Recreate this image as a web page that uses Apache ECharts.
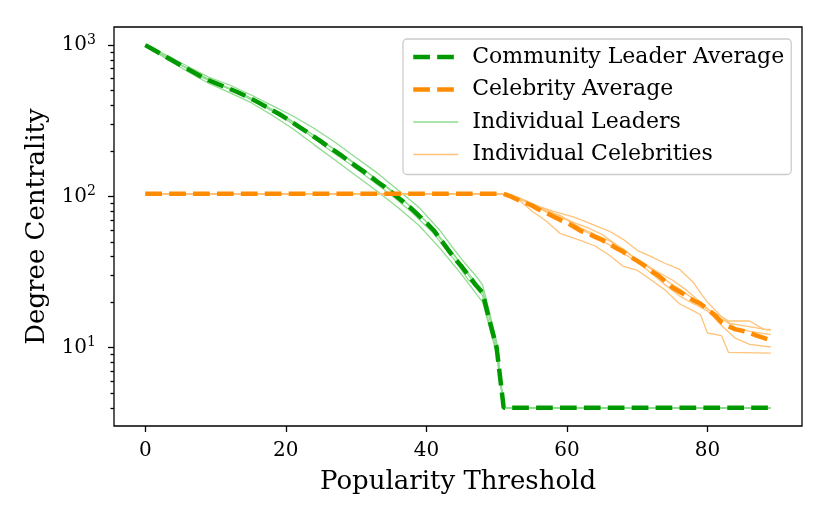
<!DOCTYPE html>
<html lang="en">
<head>
<meta charset="UTF-8">
<title>Degree Centrality vs Popularity Threshold</title>
<script src="https://cdn.jsdelivr.net/npm/echarts@6.0.0/dist/echarts.min.js"></script>
<style>
    html, body { margin: 0; padding: 0; background: #fff; }
    #chart { width: 830px; height: 523px; }
</style>
</head>
<body>
<div id="chart"></div>
<script>
// averages, one value per threshold
var leaderAvgX = [0,1,2,3,4,5,6,7,8,9,10,11,12,13,14,15,16,17,18,19,20,21,22,23,24,25,
                  26,27,28,29,30,31,32,33,34,35,36,37,38,39,40,41,42,43,44,45,46,47,48,49,50,51,89];
var leaderAvgY = [1000,942,887,834,785,740,697,656,618,586,561,537,514,492,468,445,420,396,373,352,
                  329,307,286,267,248,231,214,199,185,171,158,147,136,125,116,107,98,90,82,74,
                  67,60,52,45,39,34.5,30,26,23,15,10,4,4];

var celebAvgX = [0,51,52,53,54,55,56,57,58,59,60,61,62,63,64,65,66,67,68,69,70,
                 71,72,73,74,75,76,77,78,79,80,81,82,83,84,85,86,87,88,89];
var celebAvgY = [104,104,100,95,91,87,82,78,74,70,67,63,59,57,54,51.5,48.5,45.5,43,40,37.5,
                 35,32,30,27.5,25,23.5,22,20.5,19.5,18,16.5,14.7,13.8,13.2,12.9,12.5,12,11.6,11.2];

// individual runs, [threshold, degree]
var leader1 = [[0,1000],[3,860],[6,725],[9,615],[12,545],[15,470],[18,400],[21,340],[24,282],[27,228],
               [30,180],[33,143],[36,110],[39,84],[42,59],[45,38.5],[47,30],[48,26],[49,17],[50,11],[51,4],[89,4]];
var leader2 = [[0,1000],[3,810],[6,670],[9,560],[12,485],[15,418],[18,345],[21,280],[24,220],[27,174],
               [30,137],[33,108],[36,84],[39,64],[42,45],[45,30.5],[47,23],[48,20],[49,13.5],[50,9],[51,4],[89,4]];
var leader3 = [[0,1000],[4,790],[7,660],[10,565],[13,495],[16,425],[19,352],[22,290],[25,236],[28,190],
               [31,152],[34,118],[37,92],[40,68],[43,46],[46,31],[48,24],[49,16],[50,10.5],[51,4],[89,4]];
var leader4 = [[0,1000],[4,780],[8,625],[11,540],[14,470],[17,400],[20,335],[23,272],[26,218],[29,174],
               [32,140],[35,110],[38,84],[41,61],[44,41],[46,30],[48,22],[49,14],[50,9.5],[51,4],[89,4]];
var leader5 = [[0,1000],[2,890],[5,745],[8,615],[11,535],[14,462],[17,392],[20,322],[23,262],[26,206],
               [29,165],[32,130],[35,102],[38,78],[41,57],[44,38],[46,28],[48,23.5],[49,15.5],[50,10],[51,4],[89,4]];

var celeb1 = [[0,104],[51,104],[53,99],[56,86],[58,80],[61,73],[63,67],[66,59],[68,52],[70,44],[72,40],
              [74,36],[76,33],[78,27],[79,23],[80,20],[82,16],[83,15],[86,15],[88,13.2],[89,13.2]];
var celeb2 = [[0,104],[51,104],[53,96],[55,80],[57,69],[59,57],[62,51],[64,47],[66,41],[68,34.5],[70,32.5],
              [72,28],[74,24],[76,19.5],[78,17.5],[79,16.5],[80,12.5],[82,12],[83,9.3],[89,9.2]];
var celeb3 = [[0,104],[51,104],[54,94],[57,79],[60,70],[62,62],[64,56],[66,51],[68,45],[70,38],[72,33],
              [74,28],[76,24.5],[78,21],[80,18],[82,16],[84,13.5],[86,12.8],[89,12.2]];
var celeb4 = [[0,104],[51,104],[54,93],[57,80],[59,75],[62,61],[64,54],[66,48],[68,42],[70,37],[72,31],
              [74,26],[76,22],[78,19.5],[80,17.5],[82,14],[84,11.5],[86,10.5],[89,10.1]];
var celeb5 = [[0,104],[51,104],[55,89],[58,78],[61,67],[63,62],[65,56],[67,48],[69,41],[71,36],[73,31.5],
              [75,28],[77,24],[79,20],[81,16.5],[83,14.5],[85,14],[87,13.5],[89,13]];

var xTicks = [0, 20, 40, 60, 80];
var yMajor = [10, 100, 1000];
var yMinor = [4,5,6,7,8,9,20,30,40,50,60,70,80,90,200,300,400,500,600,700,800,900];

var FONT = 'DejaVu Serif';
var GREEN = '#009a00', ORANGE = '#ff8c00';
var LIGHT_GREEN = '#90dc90', LIGHT_ORANGE = '#ffc37a';

function zip(xs, ys) {
    return xs.map(function (x, i) { return [x, ys[i]]; });
}

function thinLine(name, data, color) {
    return {
        name: name, type: 'line', data: data, symbol: 'none', z: 2,
        lineStyle: { color: color, width: 1.3 }, itemStyle: { color: color }
    };
}

function avgLine(name, data, color) {
    return {
        name: name, type: 'line', data: data, symbol: 'none', z: 3,
        lineStyle: { color: color, width: 4.5, type: [16.7, 7.2] }, itemStyle: { color: color }
    };
}

var tickStyle = { color: '#000', width: 1.3 };

var chart = echarts.init(document.getElementById('chart'));
chart.setOption({
    animation: false,
    textStyle: { fontFamily: FONT },
    grid: { left: 114, right: 28, top: 27, bottom: 97, show: true, borderColor: '#000', borderWidth: 1.3 },
    legend: {
        data: ['Community Leader Average', 'Celebrity Average', 'Individual Leaders', 'Individual Celebrities'],
        orient: 'vertical', left: 403, top: 39,
        itemWidth: 45, itemHeight: 14, itemGap: 10.5,
        padding: [7, 7, 9, 8],
        itemStyle: { opacity: 0 },
        lineStyle: { width: 'inherit', type: 'inherit' },
        backgroundColor: 'rgba(255,255,255,0.8)', borderColor: '#cccccc', borderWidth: 1.3, borderRadius: 4,
        textStyle: { fontFamily: FONT, fontSize: 22, color: '#000', lineHeight: 22, padding: [0, 0, 0, 9] },
        selectedMode: false
    },
    xAxis: {
        type: 'value', min: -4.45, max: 93.45,
        axisLine: { show: false, onZero: false },
        axisTick: { show: true, length: 6, lineStyle: tickStyle, customValues: xTicks },
        axisLabel: { customValues: xTicks, fontFamily: FONT, fontSize: 20, color: '#000', margin: 15 },
        splitLine: { show: false },
        name: 'Popularity Threshold', nameLocation: 'middle', nameGap: 43,
        nameTextStyle: { fontFamily: FONT, fontSize: 26, color: '#000' }
    },
    yAxis: [{
        type: 'log', logBase: 10, min: 3.034, max: 1318,
        axisLine: { show: false, onZero: false },
        axisTick: { show: true, length: 6, lineStyle: tickStyle, customValues: yMajor },
        axisLabel: {
            customValues: yMajor, fontFamily: FONT, fontSize: 20, color: '#000', margin: 18,
            formatter: function (v) { return '10{sup|' + Math.round(Math.log10(v)) + '}'; },
            rich: { sup: { fontFamily: FONT, fontSize: 14, color: '#000', verticalAlign: 'top', padding: [0, 0, 10, 0] } }
        },
        splitLine: { show: false },
        name: 'Degree Centrality', nameLocation: 'middle', nameGap: 62,
        nameTextStyle: { fontFamily: FONT, fontSize: 26, color: '#000' }
    }, {
        // minor ticks of the log axis
        type: 'log', logBase: 10, min: 3.034, max: 1318, position: 'left', offset: 0,
        axisLine: { show: false, onZero: false },
        axisTick: { show: true, length: 3.5, lineStyle: tickStyle, customValues: yMinor },
        axisLabel: { show: false },
        splitLine: { show: false }
    }],
    series: [
        thinLine('Individual Leaders', leader1, LIGHT_GREEN),
        thinLine('Individual Leaders', leader2, LIGHT_GREEN),
        thinLine('Individual Leaders', leader3, LIGHT_GREEN),
        thinLine('Individual Leaders', leader4, LIGHT_GREEN),
        thinLine('Individual Leaders', leader5, LIGHT_GREEN),
        thinLine('Individual Celebrities', celeb1, LIGHT_ORANGE),
        thinLine('Individual Celebrities', celeb2, LIGHT_ORANGE),
        thinLine('Individual Celebrities', celeb3, LIGHT_ORANGE),
        thinLine('Individual Celebrities', celeb4, LIGHT_ORANGE),
        thinLine('Individual Celebrities', celeb5, LIGHT_ORANGE),
        avgLine('Community Leader Average', zip(leaderAvgX, leaderAvgY), GREEN),
        avgLine('Celebrity Average', zip(celebAvgX, celebAvgY), ORANGE)
    ]
});
</script>
</body>
</html>
